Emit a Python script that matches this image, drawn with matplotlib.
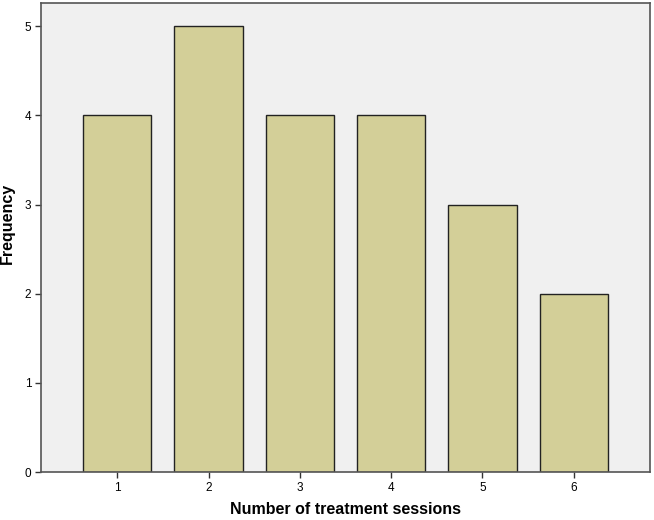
import matplotlib
matplotlib.use("Agg")
import matplotlib.pyplot as plt

plt.rcParams["font.family"] = ["Liberation Sans", "DejaVu Sans"]

sessions = [1, 2, 3, 4, 5, 6]
frequency = [4, 5, 4, 4, 3, 2]
y_ticks = [0, 1, 2, 3, 4, 5]

fig = plt.figure(figsize=(6.54, 5.2), dpi=100)
ax = fig.add_axes([0.0627, 0.0923, 0.9312, 0.9019])
ax.set_facecolor("#f0f0f0")
ax.bar(sessions, frequency, width=0.75, color="#d3cf98", edgecolor="#222222", linewidth=1.0, zorder=2)
ax.set_xlim(0.165, 6.835)
ax.set_ylim(0, 5.26)
ax.set_xticks(sessions)
ax.set_xticklabels([str(s) for s in sessions])
ax.set_yticks(y_ticks)
ax.tick_params(axis="both", labelsize=8.5, length=4, width=1, color="#333333", direction="out", pad=3)
for s in ax.spines.values():
    s.set_color("#555555")
    s.set_linewidth(1.2)
ax.set_xlabel("Number of treatment sessions", fontsize=11.5, fontweight="bold")
ax.xaxis.set_label_coords(0.5, -0.064)
ax.set_ylabel("Frequency", fontsize=11.5, fontweight="bold")
ax.yaxis.set_label_coords(-0.043, 0.53)
fig.savefig("out.png", dpi=100)
